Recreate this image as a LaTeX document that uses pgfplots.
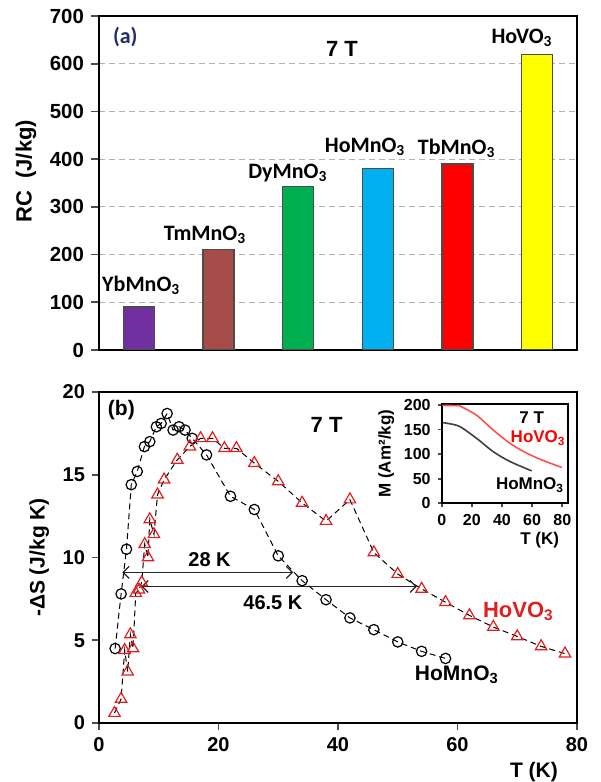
\documentclass[border=0pt]{standalone}
\usepackage{pgfplots}
\pgfplotsset{compat=1.18}
\usepackage{fontspec}
\setmainfont{Liberation Sans}
\newfontfamily\calibri{Carlito}
\usetikzlibrary{arrows.meta}
\definecolor{cYb}{HTML}{7030A0}
\definecolor{cTm}{HTML}{A64D4A}
\definecolor{cDy}{HTML}{00B050}
\definecolor{cHo}{HTML}{00B0F0}
\definecolor{cTb}{HTML}{FF0000}
\definecolor{cHV}{HTML}{FFFF00}
\definecolor{navy}{HTML}{1F2D6B}
\definecolor{tri}{HTML}{E02020}
\definecolor{insetred}{HTML}{FF5050}
\newcommand{\sub}[1]{\textsubscript{#1}}
\begin{document}
\begin{tikzpicture}
\useasboundingbox (0pt,0pt) rectangle (300pt,391pt);
\pgfplotsset{
  every axis/.append style={
    scale only axis,
    font=\bfseries\fontsize{10}{12}\selectfont,
    tick label style={font=\bfseries\fontsize{10}{12}\selectfont},
    label style={font=\bfseries\fontsize{10.5}{12}\selectfont},
    /pgf/number format/assume math mode=true,
    axis line style={line width=1pt},
    tick style={black!70, line width=0.8pt},
    tick align=outside,
    major tick length=3.5pt,
  }
}
% ---------------- panel (a)
\begin{axis}[at={(49.5pt,216pt)}, anchor=south west, width=239pt, height=167pt,
  font=\calibri\bfseries\fontsize{11}{13}\selectfont,
  tick label style={font=\bfseries\fontsize{10.2}{12}\selectfont},
  label style={font=\bfseries\fontsize{11}{13}\selectfont},
  major tick length=4pt,
  xmin=-0.5, xmax=5.5, ymin=0, ymax=700,
  ytick={0,100,...,700}, xtick=\empty, ytick pos=left,
  ymajorgrids, grid style={densely dashed, gray!60, line width=0.6pt},
  ylabel={RC\ \ (J/kg)}, ylabel style={at={(ticklabel cs:0.535)}}]
\addplot[ybar, bar shift=0pt, bar width=0.39, fill=cYb, draw=black!70, line width=0.6pt] coordinates {(0,90)};
\addplot[ybar, bar shift=0pt, bar width=0.39, fill=cTm, draw=black!70, line width=0.6pt] coordinates {(1,210)};
\addplot[ybar, bar shift=0pt, bar width=0.39, fill=cDy, draw=black!70, line width=0.6pt] coordinates {(2,342)};
\addplot[ybar, bar shift=0pt, bar width=0.39, fill=cHo, draw=black!70, line width=0.6pt] coordinates {(3,380)};
\addplot[ybar, bar shift=0pt, bar width=0.39, fill=cTb, draw=black!70, line width=0.6pt] coordinates {(4,390)};
\addplot[ybar, bar shift=0pt, bar width=0.39, fill=cHV, draw=black!70, line width=0.6pt] coordinates {(5,620)};
\node at (axis cs:0.03,136) {YbMnO\sub{3}};
\node at (axis cs:0.83,241) {TmMnO\sub{3}};
\node at (axis cs:1.87,371) {DyMnO\sub{3}};
\node at (axis cs:2.84,426) {HoMnO\sub{3}};
\node at (axis cs:3.99,423) {TbMnO\sub{3}};
\node at (axis cs:4.81,654) {HoVO\sub{3}};
\node[text=navy] at (axis cs:-0.17,657) {(a)};
\node[font=\bfseries\fontsize{11}{12}\selectfont] at (axis cs:2.55,632) {7 T};
\end{axis}
% ---------------- panel (b)
\begin{axis}[at={(49.5pt,29.5pt)}, anchor=south west, width=239pt, height=165.5pt,
  xmin=0, xmax=80, ymin=0, ymax=20,
  xtick={0,20,...,80}, ytick={0,5,...,20}, xtick pos=bottom, ytick pos=left,
  xlabel={T (K)}, xlabel style={at={(axis cs:72.8,0)}, anchor=north, yshift=-16pt},
  ylabel={-ΔS (J/kg K)}]
\addplot[black, densely dashed, line width=0.5pt, mark=o, mark size=2.6pt,
  mark options={solid, line width=0.6pt}] coordinates {
(2.7,4.5)(3.7,7.8)(4.6,10.5)(5.4,14.4)(6.4,15.2)(7.6,16.7)(8.5,17.0)(9.6,17.9)
(10.4,18.1)(11.4,18.7)(12.4,17.7)(13.4,17.9)(14.4,17.7)(15.6,17.2)(18,16.2)
(22,13.7)(26,12.9)(30,10.1)(34,8.6)(38,7.45)(42,6.35)(46,5.64)(50,4.9)(54,4.33)(58,3.9)};
\addplot[black, densely dashed, line width=0.5pt, mark=triangle, mark size=3.3pt,
  mark options={solid, draw=tri, line width=0.6pt}] coordinates {
(2.6,0.6)(3.7,1.45)(4.3,4.4)(4.8,3.1)(5.25,5.35)(5.7,4.5)(6.15,7.85)(6.7,8.05)
(7.15,8.5)(7.65,10.8)(8.2,10.0)(8.5,12.3)(9.2,11.4)(9.8,13.8)(10.9,14.7)(13.1,15.9)
(15.2,16.7)(17,17.2)(19,17.2)(21,16.6)(23,16.6)(26,15.7)(30,14.6)(34,13.3)(38,12.2)
(42,13.5)(46,10.3)(50,9.0)(54,8.1)(58,7.3)(62,6.5)(66,5.8)(70,5.23)(74,4.63)(78,4.19)};
\draw[{Straight Barb[length=3pt,width=6pt]}-{Straight Barb[length=3pt,width=6pt]}, line width=0.6pt, black!85]
  (axis cs:3.9,9.1) -- (axis cs:32.5,9.1);
\draw[{Straight Barb[length=3pt,width=6pt]}-{Straight Barb[length=3pt,width=6pt]}, line width=0.6pt, black!85]
  (axis cs:7.1,8.25) -- (axis cs:53.2,8.25);
\node at (axis cs:18.5,9.87) {28 K};
\node at (axis cs:29.1,7.25) {46.5 K};
\node[font=\bfseries\fontsize{10.5}{12}\selectfont] at (axis cs:3.75,18.9) {(b)};
\node[font=\bfseries\fontsize{11}{12}\selectfont] at (axis cs:38.1,18.0) {7 T};
\node[text=tri, font=\bfseries\fontsize{11}{12}\selectfont] at (axis cs:70.2,6.75) {HoVO\sub{3}};
\node[font=\bfseries\fontsize{10.5}{12}\selectfont] at (axis cs:59.9,2.9) {HoMnO\sub{3}};
\end{axis}
% ---------------- inset
\begin{axis}[at={(220.85pt,139.35pt)}, anchor=south west, width=63.3pt, height=49.65pt,
  axis background/.style={fill=white},
  xmin=0, xmax=84, ymin=0, ymax=202,
  xtick={0,20,...,80}, ytick={0,50,...,200}, xtick pos=bottom, ytick pos=left,
  tick label style={font=\bfseries\fontsize{8}{9}\selectfont},
  label style={font=\bfseries\fontsize{8.5}{9}\selectfont},
  major tick length=2pt,
  xlabel={T (K)}, xlabel style={at={(axis cs:65,0)}, anchor=north, yshift=-11pt},
  ylabel={M (Am²/kg)}, ylabel style={yshift=-2pt}]
\addplot[insetred, line width=0.8pt, smooth] coordinates {
(0.5,199)(5,199)(10,198.5)(12.1,198)(23.2,179)(34.2,149)(45.3,122)(56.4,102)(67.4,87)(79.6,73)};
\addplot[black!75, line width=0.8pt, smooth] coordinates {
(1,164)(5,162)(12.1,156)(23.2,132)(34.2,105)(45.3,85)(59.7,66)};
\node[font=\bfseries\fontsize{8.5}{9}\selectfont] at (axis cs:59.7,174) {7 T};
\node[text=cTb, font=\bfseries\fontsize{8.5}{9}\selectfont] at (axis cs:64,132) {HoVO\sub{3}};
\node[font=\bfseries\fontsize{8.5}{9}\selectfont] at (axis cs:58.6,37) {HoMnO\sub{3}};
\end{axis}
\end{tikzpicture}
\end{document}
